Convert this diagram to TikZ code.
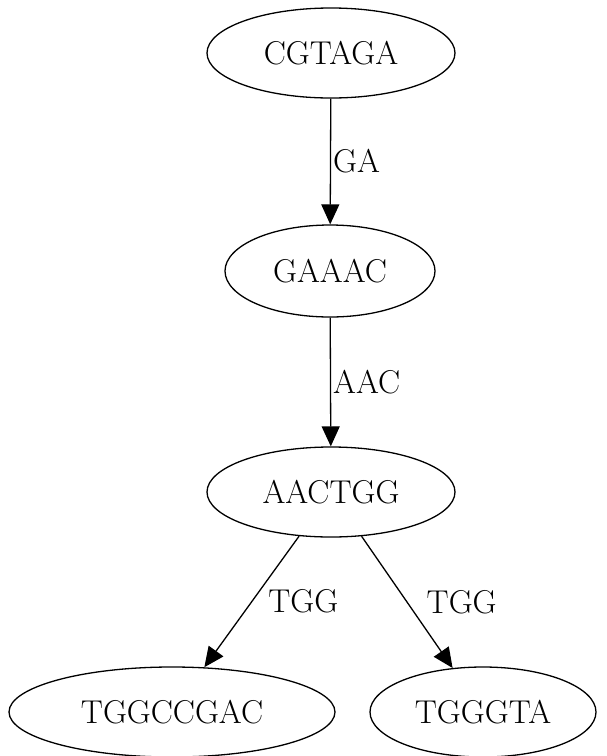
\documentclass[tikz,border=0pt]{standalone}
\usetikzlibrary{shapes.geometric,arrows.meta}
\begin{document}
\begin{tikzpicture}[x=1pt,y=-1pt,
  vertex/.style={draw, ellipse, line width=1.3pt, inner sep=0pt, font=\fontsize{33}{40}\selectfont},
  conn/.style={line width=1.3pt, -{Triangle[length=20pt,width=18pt]}},
  elabel/.style={font=\fontsize{33}{40}\selectfont, inner sep=2pt}]
\useasboundingbox (0,0) rectangle (606,756);
\node[vertex, minimum width=248pt, minimum height=90pt] (a) at (331,53) {CGTAGA};
\node[vertex, minimum width=210pt, minimum height=92pt] (b) at (330,271) {GAAAC};
\node[vertex, minimum width=248pt, minimum height=90pt] (c) at (331,492) {AACTGG};
\node[vertex, minimum width=326pt, minimum height=90pt] (d) at (172,712) {TGGCCGAC};
\node[vertex, minimum width=226pt, minimum height=90pt] (e) at (483,712) {TGGGTA};
\draw[conn] (a) -- node[elabel, anchor=west] {GA} (b);
\draw[conn] (b) -- node[elabel, anchor=west] {AAC} (c);
\draw[conn] (c) -- node[elabel, anchor=west, xshift=14pt] {TGG} (d);
\draw[conn] (c) -- node[elabel, anchor=west, xshift=17pt] {TGG} (e);
\end{tikzpicture}
\end{document}
